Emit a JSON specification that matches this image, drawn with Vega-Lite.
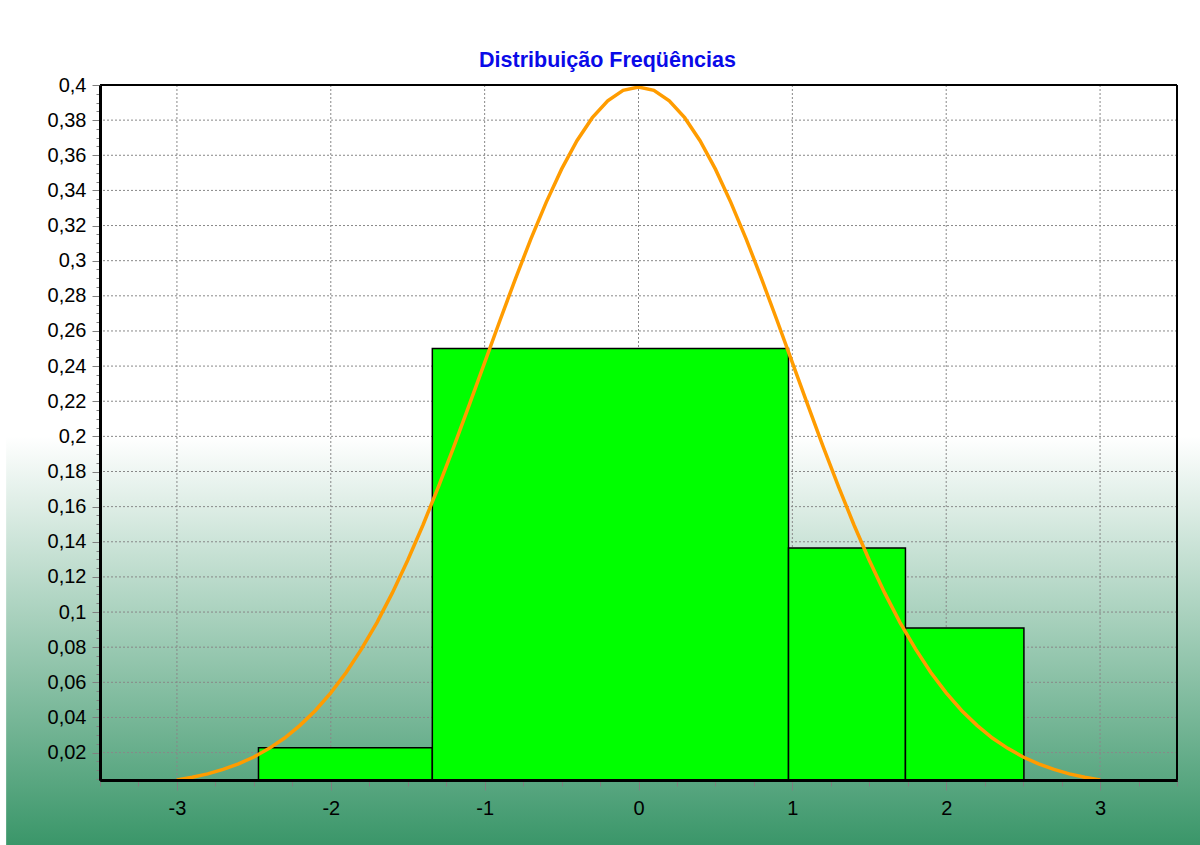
{
  "$schema": "https://vega.github.io/schema/vega-lite/v6.json",
  "width": 1077,
  "height": 695,
  "autosize": {"type": "none"},
  "padding": {"left": 100, "top": 85, "right": 23, "bottom": 65},
  "background": "white",
  "config": {"view": {"stroke": null}},
  "title": {
    "text": "Distribuição Freqüências",
    "font": "Liberation Sans",
    "fontSize": 21.5,
    "fontWeight": "bold",
    "color": "#0a0ae8",
    "anchor": "middle",
    "frame": "group",
    "dx": -31,
    "dy": 31,
    "baseline": "alphabetic",
    "offset": 18
  },
  "resolve": {"axis": {"x": "independent", "y": "independent"}},
  "datasets": {
    "bins": [
      {"x0": -2.47, "x1": -1.34, "freq": 0.0227},
      {"x0": -1.34, "x1": 0.975, "freq": 0.25},
      {"x0": 0.975, "x1": 1.735, "freq": 0.1364},
      {"x0": 1.735, "x1": 2.505, "freq": 0.0909}
    ],
    "curve": [
      {"x": -3.0, "y": 0.0044}, {"x": -2.9, "y": 0.006}, {"x": -2.8, "y": 0.0079}, {"x": -2.7, "y": 0.0104},
      {"x": -2.6, "y": 0.0136}, {"x": -2.5, "y": 0.0175}, {"x": -2.4, "y": 0.0224}, {"x": -2.3, "y": 0.0283},
      {"x": -2.2, "y": 0.0355}, {"x": -2.1, "y": 0.044}, {"x": -2.0, "y": 0.054}, {"x": -1.9, "y": 0.0656},
      {"x": -1.8, "y": 0.079}, {"x": -1.7, "y": 0.094}, {"x": -1.6, "y": 0.1109}, {"x": -1.5, "y": 0.1295},
      {"x": -1.4, "y": 0.1497}, {"x": -1.3, "y": 0.1714}, {"x": -1.2, "y": 0.1942}, {"x": -1.1, "y": 0.2179},
      {"x": -1.0, "y": 0.242}, {"x": -0.9, "y": 0.2661}, {"x": -0.8, "y": 0.2897}, {"x": -0.7, "y": 0.3123},
      {"x": -0.6, "y": 0.3332}, {"x": -0.5, "y": 0.3521}, {"x": -0.4, "y": 0.3683}, {"x": -0.3, "y": 0.3814},
      {"x": -0.2, "y": 0.391}, {"x": -0.1, "y": 0.397}, {"x": 0.0, "y": 0.3989}, {"x": 0.1, "y": 0.397},
      {"x": 0.2, "y": 0.391}, {"x": 0.3, "y": 0.3814}, {"x": 0.4, "y": 0.3683}, {"x": 0.5, "y": 0.3521},
      {"x": 0.6, "y": 0.3332}, {"x": 0.7, "y": 0.3123}, {"x": 0.8, "y": 0.2897}, {"x": 0.9, "y": 0.2661},
      {"x": 1.0, "y": 0.242}, {"x": 1.1, "y": 0.2179}, {"x": 1.2, "y": 0.1942}, {"x": 1.3, "y": 0.1714},
      {"x": 1.4, "y": 0.1497}, {"x": 1.5, "y": 0.1295}, {"x": 1.6, "y": 0.1109}, {"x": 1.7, "y": 0.094},
      {"x": 1.8, "y": 0.079}, {"x": 1.9, "y": 0.0656}, {"x": 2.0, "y": 0.054}, {"x": 2.1, "y": 0.044},
      {"x": 2.2, "y": 0.0355}, {"x": 2.3, "y": 0.0283}, {"x": 2.4, "y": 0.0224}, {"x": 2.5, "y": 0.0175},
      {"x": 2.6, "y": 0.0136}, {"x": 2.7, "y": 0.0104}, {"x": 2.8, "y": 0.0079}, {"x": 2.9, "y": 0.006},
      {"x": 3.0, "y": 0.0044}
    ],
    "ygrid": [
      {"v": 0.02}, {"v": 0.04}, {"v": 0.06}, {"v": 0.08}, {"v": 0.1}, {"v": 0.12}, {"v": 0.14},
      {"v": 0.16}, {"v": 0.18}, {"v": 0.2}, {"v": 0.22}, {"v": 0.24}, {"v": 0.26}, {"v": 0.28},
      {"v": 0.3}, {"v": 0.32}, {"v": 0.34}, {"v": 0.36}, {"v": 0.38}
    ],
    "xgrid": [
      {"v": -3}, {"v": -2}, {"v": -1}, {"v": 0}, {"v": 1}, {"v": 2}, {"v": 3}
    ]
  },
  "layer": [
    {
      "data": {"values": [{}]},
      "mark": {
        "type": "rect",
        "fill": {
          "gradient": "linear", "x1": 0, "y1": 0, "x2": 0, "y2": 1,
          "stops": [{"offset": 0, "color": "#ffffff"}, {"offset": 1, "color": "#3a9669"}]
        }
      },
      "encoding": {
        "x": {"datum": -4.11, "type": "quantitative", "scale": {"domain": [-3.5, 3.5], "nice": false, "zero": false}, "axis": null},
        "x2": {"datum": 3.7},
        "y": {"datum": 0.2, "type": "quantitative", "scale": {"domain": [0.0044, 0.4], "nice": false, "zero": false}, "axis": null},
        "y2": {"datum": -0.0327}
      }
    },
    {
      "data": {"name": "ygrid"},
      "mark": {"type": "rule", "color": "#888888", "strokeWidth": 1, "strokeDash": [2, 2]},
      "encoding": {
        "y": {
          "field": "v", "type": "quantitative",
          "scale": {"domain": [0.0044, 0.4], "nice": false, "zero": false},
          "axis": {
            "orient": "left", "title": null, "grid": false,
            "values": [0.02, 0.04, 0.06, 0.08, 0.1, 0.12, 0.14, 0.16, 0.18, 0.2, 0.22, 0.24, 0.26, 0.28, 0.3, 0.32, 0.34, 0.36, 0.38, 0.4],
            "domainColor": "black", "domainWidth": 3,
            "tickColor": "#808080", "tickWidth": 1, "tickSize": 8,
            "labelExpr": "replace(format(datum.value, '.2~f'), '.', ',')",
            "labelFont": "Liberation Sans", "labelFontSize": 20, "labelColor": "black",
            "labelPadding": 6, "labelFlush": false, "labelOverlap": false, "zindex": 2
          }
        }
      }
    },
    {
      "data": {"name": "xgrid"},
      "mark": {"type": "rule", "color": "#888888", "strokeWidth": 1, "strokeDash": [2, 2]},
      "encoding": {
        "x": {
          "field": "v", "type": "quantitative",
          "scale": {"domain": [-3.5, 3.5], "nice": false, "zero": false},
          "axis": {
            "orient": "bottom", "title": null, "grid": false,
            "values": [-3, -2, -1, 0, 1, 2, 3],
            "domainColor": "black", "domainWidth": 3,
            "tickColor": "#808080", "tickWidth": 1, "tickSize": 10,
            "labelExpr": "'' + datum.value",
            "labelFont": "Liberation Sans", "labelFontSize": 20, "labelColor": "black",
            "labelPadding": 8, "labelFlush": false, "labelOverlap": false, "zindex": 2
          }
        }
      }
    },
    {
      "data": {"name": "bins"},
      "mark": {"type": "rect", "fill": "#00ff00", "stroke": "black", "strokeWidth": 1.5, "clip": true},
      "encoding": {
        "x": {"field": "x0", "type": "quantitative", "scale": {"domain": [-3.5, 3.5], "nice": false, "zero": false}, "axis": null},
        "x2": {"field": "x1"},
        "y": {"field": "freq", "type": "quantitative", "scale": {"domain": [0.0044, 0.4], "nice": false, "zero": false}, "axis": null},
        "y2": {"datum": 0}
      }
    },
    {
      "data": {"name": "curve"},
      "mark": {"type": "line", "color": "#ff9c00", "strokeWidth": 3.5},
      "encoding": {
        "x": {"field": "x", "type": "quantitative", "scale": {"domain": [-3.5, 3.5], "nice": false, "zero": false}, "axis": null},
        "y": {"field": "y", "type": "quantitative", "scale": {"domain": [0.0044, 0.4], "nice": false, "zero": false}, "axis": null}
      }
    },
    {
      "data": {"values": [{}]},
      "mark": {"type": "rule", "color": "black", "strokeWidth": 2},
      "encoding": {
        "y": {
          "datum": 0.4, "type": "quantitative",
          "scale": {"domain": [0.0044, 0.4], "nice": false, "zero": false},
          "axis": {
            "orient": "left", "title": null, "grid": false, "labels": false,
            "values": [0.005, 0.01, 0.015, 0.025, 0.03, 0.035, 0.045, 0.05, 0.055, 0.065, 0.07, 0.075, 0.085, 0.09, 0.095, 0.105, 0.11, 0.115, 0.125, 0.13, 0.135, 0.145, 0.15, 0.155, 0.165, 0.17, 0.175, 0.185, 0.19, 0.195, 0.205, 0.21, 0.215, 0.225, 0.23, 0.235, 0.245, 0.25, 0.255, 0.265, 0.27, 0.275, 0.285, 0.29, 0.295, 0.305, 0.31, 0.315, 0.325, 0.33, 0.335, 0.345, 0.35, 0.355, 0.365, 0.37, 0.375, 0.385, 0.39, 0.395],
            "domainColor": "black", "domainWidth": 3,
            "tickColor": "#808080", "tickWidth": 1, "tickSize": 4, "zindex": 1
          }
        }
      }
    },
    {
      "data": {"values": [{}]},
      "mark": {"type": "rule", "color": "black", "strokeWidth": 2},
      "encoding": {
        "x": {
          "datum": 3.5, "type": "quantitative",
          "scale": {"domain": [-3.5, 3.5], "nice": false, "zero": false},
          "axis": {
            "orient": "bottom", "title": null, "grid": false, "labels": false,
            "values": [-3.5, -3.25, -2.75, -2.5, -2.25, -1.75, -1.5, -1.25, -0.75, -0.5, -0.25, 0.25, 0.5, 0.75, 1.25, 1.5, 1.75, 2.25, 2.5, 2.75, 3.25, 3.5],
            "domainColor": "black", "domainWidth": 3,
            "tickColor": "#808080", "tickWidth": 1, "tickSize": 6, "zindex": 1
          }
        }
      }
    }
  ]
}
